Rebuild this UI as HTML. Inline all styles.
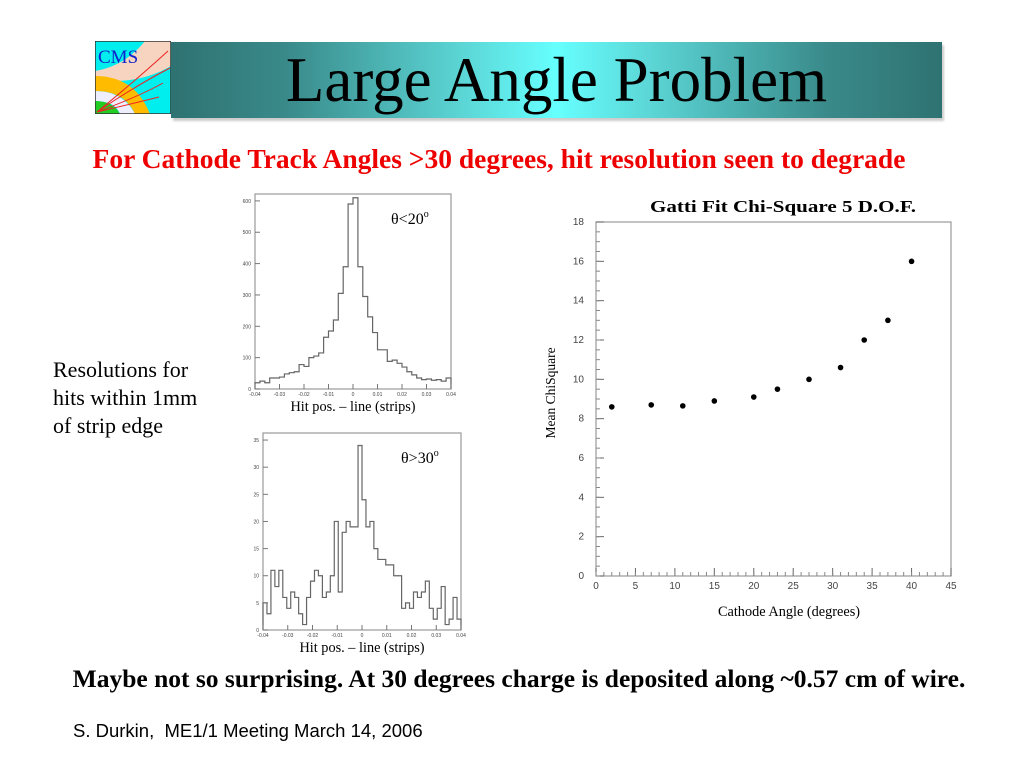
<!DOCTYPE html>
<html><head><meta charset="utf-8"><style>
body{margin:0;width:1024px;height:768px;background:#fff;position:relative;overflow:hidden;font-family:"Liberation Serif",serif}
.a{position:absolute;white-space:nowrap}
</style></head><body>
<div class="a" style="left:171px;top:42px;width:771px;height:76px;background:linear-gradient(90deg,#2f7272 0%,#3a8a8a 15%,#5cd6d6 38%,#6ff 50%,#5cd6d6 62%,#3a8a8a 85%,#2f7272 100%);box-shadow:2px 3px 2px #ccc"></div>
<div class="a" style="left:171px;top:42px;width:771px;text-align:center;font-size:63px;line-height:76px;color:#000">Large Angle Problem</div>
<svg class="a" style="left:95px;top:41px" width="76" height="73">
<rect width="76" height="73" fill="#0ee"/>
<path d="M50 0H76V25Q50 40 20 40H0V30Q30 25 50 0Z" fill="#f6d4c0"/>
<path d="M0 35Q40 35 55 73H40Q30 50 0 50Z" fill="#fb0"/>
<path d="M0 50Q28 50 40 73H25Q20 60 0 60Z" fill="#eef"/>
<path d="M0 60Q18 60 25 73H0Z" fill="#2c2"/>
<rect width="76" height="73" fill="none" stroke="#333" stroke-width="1.5"/>
<text x="3" y="22" font-family="Liberation Serif" font-size="19" fill="#12c">CMS</text>
<g stroke="#e22" fill="none" stroke-width="1"><path d="M2 71Q40 40 73 10"/><path d="M2 71Q40 45 75 27"/><path d="M2 71Q45 55 68 42"/><path d="M2 71Q40 62 64 56"/></g>
</svg>
<div class="a" style="left:-13px;width:1024px;top:142px;text-align:center;color:#e00;font-weight:bold;font-size:27.5px;line-height:34px">For Cathode Track Angles &gt;30 degrees, hit resolution seen to degrade</div>
<div class="a" style="left:53px;top:356px;font-size:22px;line-height:28px">Resolutions for<br>hits within 1mm<br>of strip edge</div>
<div class="a" style="left:7px;width:1024px;top:664px;text-align:center;font-weight:bold;font-size:25.5px;line-height:30px">Maybe not so surprising. At 30 degrees charge is deposited along ~0.57 cm of wire.</div>
<div class="a" style="left:73px;top:720px;font-family:'Liberation Sans',sans-serif;font-size:18.5px;white-space:pre">S. Durkin,  ME1/1 Meeting March 14, 2006</div>
<svg class="a" id="svg" style="left:0;top:0" width="1024" height="768"></svg>
<script>
const hist1Values=[20,25,20,35,35,38,48,52,55,78,72,100,105,115,165,185,220,305,390,590,610,390,295,230,180,125,125,88,92,82,70,55,45,35,30,32,28,30,25,35];
const hist1YTicks=[0,100,200,300,400,500,600];
const hist2Values=[5,3,11,8,11,6,4,7,6,3,1,6,9,11,10,6,7,10,20,7,18,20,19,19,34,24,19,20,15,13,13,12,12,10,10,4,5,4,7,6,7,9,4,2,4,8,1,2,6,2];
const hist2YTicks=[0,5,10,15,20,25,30,35];
const histXTicks=[-0.04,-0.03,-0.02,-0.01,0,0.01,0.02,0.03,0.04];
const histXLabels=["-0.04","-0.03","-0.02","-0.01","0","0.01","0.02","0.03","0.04"];
const scatterX=[2,7,11,15,20,23,27,31,34,37,40];
const scatterY=[8.6,8.7,8.65,8.9,9.1,9.5,10,10.6,12,13,16];
const scatterXTicks=[0,5,10,15,20,25,30,35,40,45];
const scatterYTicks=[0,2,4,6,8,10,12,14,16,18];
const svg=document.getElementById('svg');
const NS='http://www.w3.org/2000/svg';
function mk(t,a,p){const e=document.createElementNS(NS,t);for(const k in a)e.setAttribute(k,a[k]);(p||svg).appendChild(e);return e;}
function hist(vals,yt,ymax,L,T,R,B,name,label){
  const g=mk('g',{});
  
  
  const xs=v=>L+(v+0.04)/0.08*(R-L), ys=v=>B-v/ymax*(B-T);
  mk('rect',{x:L,y:T,width:R-L,height:B-T,fill:'none',stroke:'#999','stroke-width':1.2},g);
  const w=0.08/vals.length;let d='M'+L+' '+B;
  vals.forEach((v,i)=>{d+=' L'+xs(-0.04+i*w)+' '+ys(v)+' L'+xs(-0.04+(i+1)*w)+' '+ys(v);});
  d+=' L'+R+' '+B;
  const p=mk('path',{d:d,fill:'none',stroke:'#666','stroke-width':1.2},g);
  
  
  yt.forEach(v=>{mk('line',{x1:L,x2:L+5,y1:ys(v),y2:ys(v),stroke:'#777'},g);const t=mk('text',{x:L-4,y:ys(v)+2,'font-size':5,'text-anchor':'end','font-family':'Liberation Sans',fill:'#444'},g);t.textContent=v;});
  histXTicks.forEach((v,i)=>{mk('line',{x1:xs(v),x2:xs(v),y1:B,y2:B-5,stroke:'#777'},g);const t=mk('text',{x:xs(v),y:B+7,'font-size':5,'text-anchor':'middle','font-family':'Liberation Sans',fill:'#444'},g);t.textContent=histXLabels[i];});
  const t=mk('text',{x:(L+R)/2,y:B+22,'font-size':14.3,'text-anchor':'middle','font-family':'Liberation Serif'},g);t.textContent='Hit pos. \u2013 line (strips)';
  const l=mk('text',{x:R-60,y:T+30,'font-size':16,'font-family':'Liberation Serif'},g);l.innerHTML=label;
}
hist(hist1Values,hist1YTicks,622,255,194,451,389,'histogram-small-angle','\u03b8&lt;20<tspan font-size="10" dy="-7">o</tspan>');
hist(hist2Values,hist2YTicks,36.3,263,433,461,630,'histogram-large-angle','\u03b8&gt;30<tspan font-size="10" dy="-7">o</tspan>');
(function(){
  const L=596,T=222,R=951,B=576;
  const xs=v=>L+v/45*(R-L), ys=v=>B-v/18*(B-T);
  const g=mk('g',{});
  
  
  mk('rect',{x:L,y:T,width:R-L,height:B-T,fill:'none',stroke:'#999','stroke-width':1.2},g);
  scatterXTicks.forEach(v=>{mk('line',{x1:xs(v),x2:xs(v),y1:B,y2:B-8,stroke:'#666'},g);const t=mk('text',{x:xs(v),y:B+13,'font-size':10,'text-anchor':'middle','font-family':'Liberation Sans',fill:'#444'},g);t.textContent=v;});
  for(let v=0;v<45;v+=1){mk('line',{x1:xs(v),x2:xs(v),y1:B,y2:B-4,stroke:'#888'},g);}
  scatterYTicks.forEach(v=>{mk('line',{x1:L,x2:L+8,y1:ys(v),y2:ys(v),stroke:'#666'},g);const t=mk('text',{x:L-12,y:ys(v)+3,'font-size':10,'text-anchor':'end','font-family':'Liberation Sans',fill:'#444'},g);t.textContent=v;});
  for(let v=0;v<18;v+=0.5){mk('line',{x1:L,x2:L+4,y1:ys(v),y2:ys(v),stroke:'#888'},g);}
  scatterX.forEach((x,i)=>{const c=mk('circle',{cx:xs(x),cy:ys(scatterY[i]),r:2.8,fill:'#000'},g);});
  let t=mk('text',{x:650,y:212,'font-size':17,'font-weight':'bold','font-family':'Liberation Serif',textLength:266,lengthAdjust:'spacingAndGlyphs'},g);t.textContent='Gatti Fit Chi-Square 5 D.O.F.';
  t=mk('text',{x:789,y:616,'font-size':14.3,'text-anchor':'middle','font-family':'Liberation Serif'},g);t.textContent='Cathode Angle (degrees)';
  t=mk('text',{x:0,y:0,'font-size':13.5,'text-anchor':'middle','font-family':'Liberation Serif',transform:'translate(555,393) rotate(-90)'},g);t.textContent='Mean ChiSquare';
})();
</script>
</body></html>
